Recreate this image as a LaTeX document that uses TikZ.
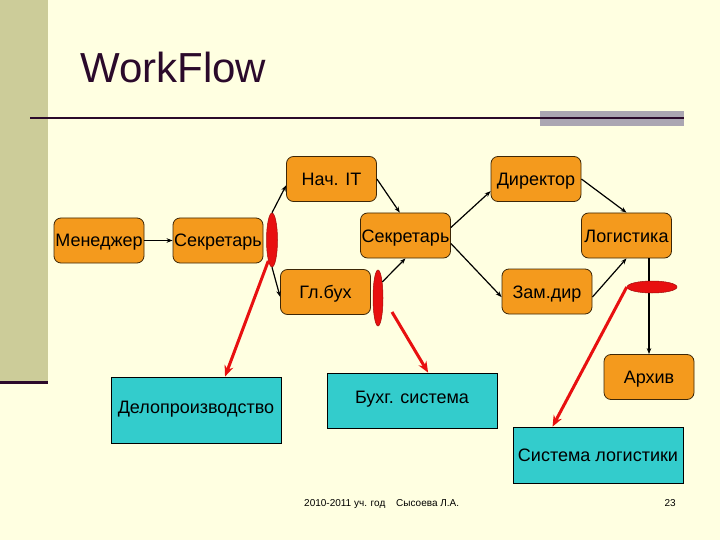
\documentclass[tikz,border=0pt]{standalone}
\usepackage{fontspec}
\setmainfont{Liberation Sans}
\usetikzlibrary{shapes.geometric,arrows.meta,calc}
\definecolor{bgc}{HTML}{FFFFE1}
\definecolor{stripc}{HTML}{CCCC99}
\definecolor{darkc}{HTML}{2B0A2B}
\definecolor{grayc}{HTML}{ABA6B2}
\definecolor{orng}{HTML}{F49A1D}
\definecolor{cyn}{HTML}{33CCCC}
\definecolor{redc}{HTML}{E81010}
\begin{document}
\begin{tikzpicture}[x=1pt,y=-1pt,
  onode/.style={draw=black!75!orng, line width=0.8pt, fill=orng, rounded corners=7pt,
    minimum width=90pt, minimum height=45pt, inner sep=0pt, text height=13pt, text depth=0pt,
    font=\fontsize{18}{21}\selectfont},
  cnode/.style={draw=black, line width=0.8pt, fill=cyn, inner sep=0pt, text height=13pt, text depth=0pt,
    minimum width=170pt, font=\fontsize{18}{21}\selectfont},
  blk/.style={-{Stealth[length=6pt,width=4.5pt]}, line width=1.2pt, black},
  redarr/.style={-{Stealth[length=11pt,width=9pt]}, line width=3pt, redc},
  lens/.style={ellipse, fill=redc, draw=redc!70!black, line width=0.5pt, inner sep=0pt}]
\useasboundingbox (0,0) rectangle (720,540);
\fill[bgc] (0,0) rectangle (720,540);
% slide decoration
\fill[stripc] (0,0) rectangle (48,381);
\fill[darkc] (0,381) rectangle (48,384);
\node[anchor=base west, font=\fontsize{42}{48}\selectfont, text=darkc, inner sep=0pt] (title) at (80,83) {WorkFlow};
\fill[grayc] (540,111) rectangle (684,126);
\draw[darkc, line width=2pt] (30,118) -- (684,118);
% orange nodes
\node[onode] (mgr) at (99,240.5) {Менеджер};
\node[onode] (sec1) at (218,240.5) {Секретарь};
\node[onode] (nach) at (331.5,179) {Нач. IT};
\node[onode] (dir) at (536,179) {Директор};
\node[onode] (sec2) at (405.5,235.5) {Секретарь};
\node[onode] (log) at (626.5,235.5) {Логистика};
\node[onode] (glb) at (325.5,292) {Гл.бух};
\node[onode] (zam) at (547,291.5) {Зам.дир};
\node[onode] (arh) at (649,377) {Архив};
% cyan nodes
\node[cnode, minimum height=66pt, text depth=7pt] (delo) at (196,410) {Делопроизводство};
\node[cnode, minimum height=55pt, text depth=7pt] (bux) at (412,400.5) {Бухг. система};
\node[cnode, minimum height=56pt] (sysl) at (598,455) {Система логистики};
% red lenses (left, middle)
\node[lens, minimum width=11pt, minimum height=54pt] (L) at (272,240) {};
\node[lens, minimum width=10pt, minimum height=56pt] (M) at (378,298) {};
% black connectors
\draw[blk] (mgr) -- (sec1);
\draw[blk] (L.north) -- (nach.188);
\draw[blk] (L.south) -- (glb.186);
\draw[blk] (nach.east) -- (sec2.104);
\draw[blk] (M.75) -- (sec2.south);
\draw[blk] (sec2.10) -- (dir.195);
\draw[blk] (sec2.-10) -- (zam.187);
\draw[blk] (dir.east) -- (log.north);
\draw[blk] (zam.-7) -- (log.south);
\draw[blk] (log.south -| arh.north) -- (arh.north);
% right lens on top of the line
\node[lens, minimum width=50pt, minimum height=12pt] (R) at (652,287) {};
% red connectors
\coordinate (m2) at (392,312);
\draw[redarr] (L.-100) -- (delo.49);
\draw[redarr] (m2) -- (bux.60);
\draw[redarr] (R.west) -- (sysl.148);
% footer
\node[anchor=base west, font=\fontsize{10}{12}\selectfont, inner sep=0pt] (f1) at (304,506) {2010-2011 уч. год};
\node[anchor=base west, font=\fontsize{10}{12}\selectfont, inner sep=0pt] (f2) at (396,506) {Сысоева Л.А.};
\node[anchor=base east, font=\fontsize{10}{12}\selectfont, inner sep=0pt] (f3) at (676,506) {23};
\end{tikzpicture}
\end{document}
